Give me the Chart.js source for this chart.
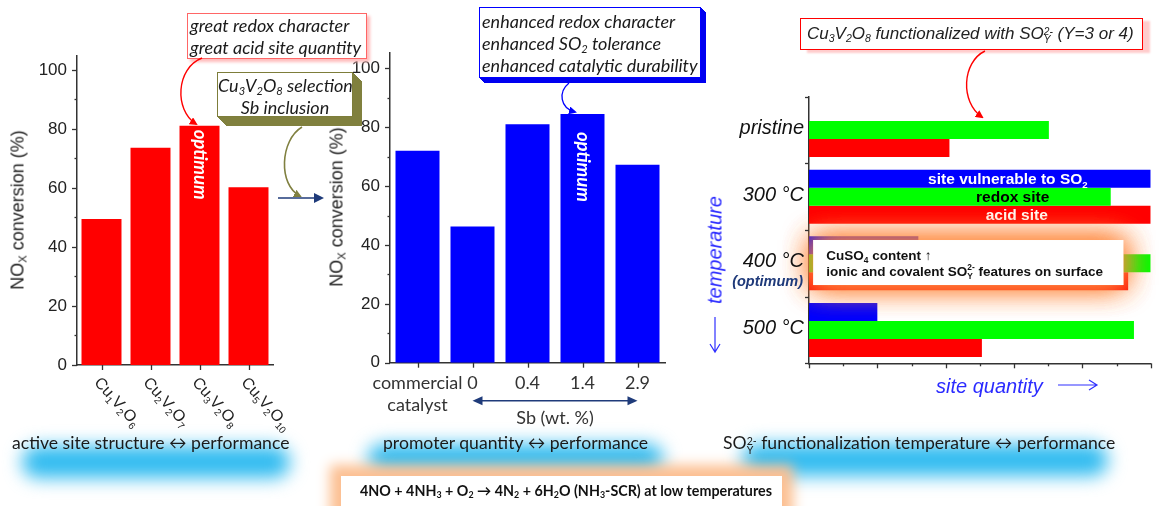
<!DOCTYPE html>
<html><head><meta charset="utf-8">
<script src="https://cdn.jsdelivr.net/npm/chart.js@4.4.1/dist/chart.umd.min.js"></script>
<style>
html,body{margin:0;padding:0;background:#fff;}
#root{position:relative;width:1161px;height:506px;overflow:hidden;background:#fff;}
canvas{position:absolute;top:0;z-index:2;}
.glow{position:absolute;background:#30bbf0;filter:blur(9px);border-radius:16px;z-index:0;}
.cap{position:absolute;font-family:Lato,"Open Sans",sans-serif;font-size:17.6px;color:#1a1a1a;white-space:nowrap;line-height:18px;z-index:3;}
.box{position:absolute;box-sizing:border-box;background:#fff;white-space:nowrap;z-index:4;}
.it{font-family:Lato,"Open Sans",sans-serif;font-style:italic;font-size:18px;color:#1a1a1a;line-height:22px;}
.ytitle{position:absolute;transform:translate(-50%,-50%) rotate(-90deg);font-family:"Liberation Sans",Arial,sans-serif;font-size:18px;color:#222;white-space:nowrap;z-index:3;}
sub{font-size:0.62em;vertical-align:-0.25em;line-height:0;}
.ss{display:inline-flex;flex-direction:column;font-size:0.6em;line-height:0.85;vertical-align:0.42em;}
svg{position:absolute;left:0;top:0;z-index:5;}
</style></head>
<body><div id="root">
<div class="glow" style="left:22px;top:446px;width:268px;height:32px;"></div>
<div class="glow" style="left:368px;top:444px;width:295px;height:30px;"></div>
<div class="glow" style="left:742px;top:444px;width:366px;height:32px;"></div>

<canvas id="c1" width="290" height="440" style="left:0px"></canvas>
<canvas id="c2" width="360" height="440" style="left:320px"></canvas>
<canvas id="c3" width="461" height="440" style="left:700px"></canvas>

<div class="ytitle" style="left:18px;top:210px;">NO<sub>X</sub> conversion (%)</div>
<div class="ytitle" style="left:337px;top:207px;">NO<sub>X</sub> conversion (%)</div>

<div class="box it" style="left:187px;top:13px;width:180px;height:46px;border:1.5px solid #f66;box-shadow:3px 3px 3px #fbb;padding:0 0 0 2px;">great redox character<br>great acid site quantity</div>

<div class="box it" style="left:217px;top:72px;width:136px;height:45px;border:1.5px solid #7d7d3a;padding-top:1px;text-align:center;box-shadow:1px 1px 0 #80803e,2px 2px 0 #80803e,3px 3px 0 #80803e,4px 4px 0 #80803e,5px 5px 0 #80803e,6px 6px 0 #80803e,7px 7px 0 #80803e,8px 8px 0 #80803e,9px 9px 0 #80803e;">Cu<sub>3</sub>V<sub>2</sub>O<sub>8</sub> selection<br>Sb inclusion</div>

<div class="box it" style="left:479px;top:7px;width:222px;height:71px;border:1.5px solid #00f;padding:2px 0 0 2px;box-shadow:1px 1px 0 #0000f0,2px 2px 0 #0000f0,3px 3px 0 #0000f0,4px 4px 0 #0000f0,5px 5px 0 #0000f0;">enhanced redox character<br>enhanced SO<sub>2</sub> tolerance<br>enhanced catalytic durability</div>

<div class="box" style="left:800px;top:18px;width:343px;height:32px;border:1.5px solid #f00;box-shadow:7px 3px 2px #fcc;padding-left:6px;font-family:'Liberation Sans',Arial,sans-serif;font-style:italic;font-size:17px;line-height:29px;color:#222;">Cu<sub>3</sub>V<sub>2</sub>O<sub>8</sub> functionalized with SO<span class="ss"><span>2-</span><span>Y</span></span> (Y=3 or 4)</div>

<div style="position:absolute;left:715px;top:250px;transform:translate(-50%,-50%) rotate(-90deg);font-family:'Liberation Sans',Arial,sans-serif;font-style:italic;font-size:20px;color:#2b2bff;white-space:nowrap;z-index:3;">temperature</div>
<div style="position:absolute;left:936px;top:375px;font-family:'Liberation Sans',Arial,sans-serif;font-style:italic;font-size:20px;color:#2b2bff;white-space:nowrap;line-height:22px;z-index:3;">site quantity</div>

<div class="cap" style="left:12px;top:434px;">active site structure ↔ performance</div>
<div class="cap" style="left:383px;top:434px;">promoter quantity ↔ performance</div>
<div class="cap" style="left:723px;top:434px;">SO<span class="ss"><span>2-</span><span>Y</span></span> functionalization temperature ↔ performance</div>

<div class="box" style="left:341px;top:476px;width:441px;height:40px;box-shadow:0 0 12px 11px #fcbf91;z-index:3;font-family:Lato,'Open Sans',sans-serif;font-weight:bold;font-size:14.3px;line-height:30px;padding-left:19px;color:#111;">4NO + 4NH<sub>3</sub> + O<sub>2</sub> → 4N<sub>2</sub> + 6H<sub>2</sub>O (NH<sub>3</sub>-SCR) at low temperatures</div>

<svg width="1161" height="506" viewBox="0 0 1161 506">
<defs>
<marker id="mr" markerWidth="8" markerHeight="8" refX="6" refY="4" orient="auto" markerUnits="userSpaceOnUse"><path d="M0,0 L8,4 L0,8 z" fill="#f00"/></marker>
<marker id="mo" markerWidth="8" markerHeight="8" refX="6" refY="4" orient="auto" markerUnits="userSpaceOnUse"><path d="M0,0 L8,4 L0,8 z" fill="#808040"/></marker>
<marker id="mn" markerWidth="10" markerHeight="10" refX="8" refY="5" orient="auto" markerUnits="userSpaceOnUse"><path d="M0,0 L10,5 L0,10 z" fill="#1f3b7a"/></marker>
<marker id="mb" markerWidth="8" markerHeight="8" refX="6" refY="4" orient="auto" markerUnits="userSpaceOnUse"><path d="M0,0 L8,4 L0,8 z" fill="#00f"/></marker>
</defs>
<path d="M202,58 C176,68 174,110 196,124" fill="none" stroke="#f00" stroke-width="1.4" marker-end="url(#mr)"/>
<path d="M302,127 C280,140 278,185 300,196" fill="none" stroke="#808040" stroke-width="1.6" marker-end="url(#mo)"/>
<path d="M278,198 L322,198" fill="none" stroke="#1f3b7a" stroke-width="1.3" marker-end="url(#mn)"/>
<path d="M569,83 C558,92 560,108 575,112" fill="none" stroke="#00f" stroke-width="1.3" marker-end="url(#mb)"/>
<path d="M985,51 C962,62 960,102 982,117" fill="none" stroke="#f00" stroke-width="1.4" marker-end="url(#mr)"/>
<path d="M1058,385 L1097,385 M1089,380 L1097,385 L1089,390" fill="none" stroke="#3030ff" stroke-width="1.2"/>
<path d="M715,317 L715,352 M710,344 L715,352 L720,344" fill="none" stroke="#3030ff" stroke-width="1.2"/>
</svg>
</div>
<script>
// ---------- data ----------
const catalysts = ['Cu1V2O6', 'Cu2V2O7', 'Cu3V2O8', 'Cu5V2O10'];
const conversionByStructure = [49.5, 73.6, 81.1, 60.2];
const sbLoadings = [['commercial', 'catalyst'], '0', '0.4', '1.4', '2.9'];
const conversionBySb = [72.0, 46.3, 81.0, 84.5, 67.2];
const convTickStep = 20;
const convMinorStep = 10;
const tempLabels = ['pristine', '300 °C', '400 °C', '500 °C'];
const optimumTemp = '400 °C';
const vulnerableSites = [0, 100, 32, 20];
const redoxSites = [70.2, 88.3, 100, 95.1];
const acidSites = [41.1, 100, 93.4, 50.6];

// ---------- helpers ----------
const SANS = '"Liberation Sans", Arial, sans-serif';
const CAL = 'Lato, "Open Sans", sans-serif';
const AX = '#333';
Chart.defaults.animation = false;
Chart.defaults.font.family = SANS;
Chart.defaults.color = '#222';

function line(ctx, x1, y1, x2, y2) { ctx.beginPath(); ctx.moveTo(x1, y1); ctx.lineTo(x2, y2); ctx.stroke(); }
function chemParts(s) {
  const out = []; const re = /([A-Za-z]+)(\d*)/g; let m;
  while ((m = re.exec(s)) && m[0]) { out.push([m[1]]); if (m[2]) out.push([m[2], 'sub']); }
  return out;
}
function drawRich(ctx, parts, x, y, o) {
  const fam = o.family || SANS;
  const f = s => `${o.style || 'normal'} ${o.weight || 'normal'} ${s}px ${fam}`;
  const small = o.size * 0.62;
  let w = 0; const segs = [];
  for (const p of parts) {
    const k = p[1] || '';
    if (k === 'ss') {
      ctx.font = f(small);
      const ww = Math.max(ctx.measureText(p[0]).width, ctx.measureText(p[2]).width);
      segs.push({ k, t: p[0], t2: p[2], w: ww }); w += ww;
    } else {
      ctx.font = f(k ? small : o.size);
      const ww = ctx.measureText(p[0]).width; segs.push({ k, t: p[0], w: ww }); w += ww;
    }
  }
  let cx = o.align === 'center' ? x - w / 2 : o.align === 'right' ? x - w : x;
  ctx.fillStyle = o.color || '#222'; ctx.textAlign = 'left'; ctx.textBaseline = 'alphabetic';
  for (const s of segs) {
    if (s.k === 'ss') { ctx.font = f(small); ctx.fillText(s.t, cx, y + o.size * 0.22); ctx.fillText(s.t2, cx, y - o.size * 0.42); }
    else if (s.k === 'sub') { ctx.font = f(small); ctx.fillText(s.t, cx, y + o.size * 0.22); }
    else if (s.k === 'sup') { ctx.font = f(small); ctx.fillText(s.t, cx, y - o.size * 0.42); }
    else { ctx.font = f(o.size); ctx.fillText(s.t, cx, y); }
    cx += s.w;
  }
}
function argmax(a) { return a.reduce((bi, v, i) => v > a[bi] ? i : bi, 0); }
function drawOptimum(chart, dy) {
  const vals = chart.data.datasets[0].data; const el = chart.getDatasetMeta(0).data[argmax(vals)];
  const ctx = chart.ctx; ctx.save(); ctx.translate(el.x, el.y + dy); ctx.rotate(Math.PI / 2);
  ctx.font = `italic bold 18.5px ${CAL}`; ctx.fillStyle = '#fff'; ctx.textBaseline = 'middle'; ctx.textAlign = 'left';
  ctx.fillText('optimum', 0, 0); ctx.restore();
}
function yConvTicks(chart) {
  const { ctx, chartArea: a, scales: { y } } = chart;
  ctx.save(); ctx.strokeStyle = AX; ctx.lineWidth = 1.3;
  for (let v = 0; v <= 100; v += convMinorStep) {
    const py = Math.round(y.getPixelForValue(v)) + 0.5; const L = v % convTickStep === 0 ? 5 : 2.5;
    line(ctx, a.left - L, py, a.left, py);
  }
  ctx.restore();
}
function convYScale(max, width) {
  return { min: 0, max, grid: { display: false, drawTicks: false }, border: { display: true, color: AX, width: 1.5 },
    ticks: { stepSize: convTickStep, includeBounds: false, padding: 10, font: { size: 17 }, color: '#222' },
    afterFit: s => { s.width = width; } };
}

// ---------- chart 1 ----------
new Chart(document.getElementById('c1'), {
  type: 'bar',
  data: { labels: catalysts, datasets: [{ data: conversionByStructure, backgroundColor: '#ff0000', borderWidth: 0, barPercentage: 0.816, categoryPercentage: 1 }] },
  options: {
    responsive: false, devicePixelRatio: 1,
    layout: { padding: { top: 56, right: 17, left: 0, bottom: 0 } },
    plugins: { legend: { display: false }, tooltip: { enabled: false } },
    scales: {
      x: { grid: { display: false, drawTicks: false }, border: { display: true, color: AX, width: 1.5 }, ticks: { display: false }, afterFit: s => { s.height = 75; } },
      y: convYScale(104.7, 77)
    }
  },
  plugins: [{ id: 'p1', afterDraw(chart) {
    const { ctx, chartArea: a, scales: { x } } = chart;
    yConvTicks(chart);
    ctx.save(); ctx.strokeStyle = AX; ctx.lineWidth = 1.3;
    catalysts.forEach((lab, i) => {
      const px = Math.round(x.getPixelForValue(i)) + 0.5;
      line(ctx, px, a.bottom, px, a.bottom + 5);
      ctx.save(); ctx.translate(px - 9, a.bottom + 18); ctx.rotate(48 * Math.PI / 180);
      drawRich(ctx, chemParts(lab), 0, 0, { size: 16, color: '#222' }); ctx.restore();
    });
    ctx.restore();
    drawOptimum(chart, 4);
  } }]
});

// ---------- chart 2 ----------
new Chart(document.getElementById('c2'), {
  type: 'bar',
  data: { labels: sbLoadings, datasets: [{ data: conversionBySb, backgroundColor: '#0000ff', borderWidth: 0, barPercentage: 0.8, categoryPercentage: 1 }] },
  options: {
    responsive: false, devicePixelRatio: 1,
    layout: { padding: { top: 53, right: 15, left: 0, bottom: 0 } },
    plugins: { legend: { display: false }, tooltip: { enabled: false } },
    scales: {
      x: { grid: { display: false, drawTicks: false }, border: { display: true, color: AX, width: 1.5 },
        ticks: { padding: 10, font: { family: CAL, size: 18 }, color: '#333', maxRotation: 0, autoSkip: false },
        afterFit: s => { s.height = 77.3; } },
      y: convYScale(105.2, 70)
    }
  },
  plugins: [{ id: 'p2', afterDraw(chart) {
    const { ctx, chartArea: a, scales: { x } } = chart;
    yConvTicks(chart);
    ctx.save(); ctx.strokeStyle = AX; ctx.lineWidth = 1.3;
    sbLoadings.forEach((lab, i) => { const px = Math.round(x.getPixelForValue(i)) + 0.5; line(ctx, px, a.bottom, px, a.bottom + 5); });
    // Sb range arrow
    const x1 = x.getPixelForValue(1), x2 = x.getPixelForValue(sbLoadings.length - 1), ya = a.bottom + 38;
    ctx.strokeStyle = '#1f3b7a'; ctx.fillStyle = '#1f3b7a'; ctx.lineWidth = 1.4;
    line(ctx, x1 + 6, ya, x2 - 6, ya);
    ctx.beginPath(); ctx.moveTo(x1, ya); ctx.lineTo(x1 + 10, ya - 4.5); ctx.lineTo(x1 + 10, ya + 4.5); ctx.closePath(); ctx.fill();
    ctx.beginPath(); ctx.moveTo(x2, ya); ctx.lineTo(x2 - 10, ya - 4.5); ctx.lineTo(x2 - 10, ya + 4.5); ctx.closePath(); ctx.fill();
    ctx.font = `18px ${CAL}`; ctx.fillStyle = '#333'; ctx.textAlign = 'center'; ctx.textBaseline = 'middle';
    ctx.fillText('Sb (wt. %)', (x1 + x2) / 2, ya + 17);
    ctx.restore();
    drawOptimum(chart, 18);
  } }]
});

// ---------- chart 3 ----------
new Chart(document.getElementById('c3'), {
  type: 'bar',
  data: { labels: tempLabels, datasets: [
    { data: vulnerableSites, backgroundColor: '#0000ff' },
    { data: redoxSites, backgroundColor: '#00ff00' },
    { data: acidSites, backgroundColor: '#ff0000' }
  ] },
  options: {
    indexAxis: 'y', responsive: false, devicePixelRatio: 1,
    datasets: { bar: { barPercentage: 1, categoryPercentage: 0.81, borderWidth: 0 } },
    layout: { padding: { top: 96.7, right: 10.3, left: 0, bottom: 0 } },
    plugins: { legend: { display: false }, tooltip: { enabled: false } },
    scales: {
      x: { min: 0, max: 100, grid: { display: false, drawTicks: false }, border: { display: true, color: AX, width: 1.5 }, ticks: { display: false }, afterFit: s => { s.height = 76.7; } },
      y: { grid: { display: false, drawTicks: false }, border: { display: true, color: AX, width: 1.5 }, ticks: { display: false }, afterFit: s => { s.width = 109; } }
    }
  },
  plugins: [{ id: 'p3',
    afterDatasetsDraw(chart) {
      const { ctx, chartArea: a, scales: { x, y } } = chart;
      const m0 = chart.getDatasetMeta(0).data, m1 = chart.getDatasetMeta(1).data, m2 = chart.getDatasetMeta(2).data;
      drawRich(ctx, [['site vulnerable to SO'], ['2', 'sub']], x.getPixelForValue(58.2), m0[1].y + 5.5, { size: 15.5, weight: 'bold', color: '#fff', align: 'center' });
      drawRich(ctx, [['redox site']], x.getPixelForValue(59.6), m1[1].y + 5.5, { size: 15.5, weight: 'bold', color: '#000', align: 'center' });
      drawRich(ctx, [['acid site']], x.getPixelForValue(60.8), m2[1].y + 5.5, { size: 15.5, weight: 'bold', color: '#fff', align: 'center' });
      // highlighted note over the optimum group
      const oi = tempLabels.indexOf(optimumTemp); const cy = y.getPixelForValue(oi);
      const bx = a.left + 4.3, by = cy - 23.3, bw = 310, bh = 45;
      ctx.save(); ctx.shadowColor = 'rgba(255,135,60,0.85)'; ctx.shadowBlur = 30; ctx.fillStyle = '#fff';
      ctx.fillRect(bx, by, bw, bh); ctx.fillRect(bx, by, bw, bh); ctx.fillRect(bx, by, bw, bh); ctx.restore();
      drawRich(ctx, [['CuSO'], ['4', 'sub'], [' content ↑']], bx + 13, by + 20, { size: 13.5, weight: 'bold', color: '#111' });
      drawRich(ctx, [['ionic and covalent SO'], ['Y', 'ss', '2-'], [' features on surface']], bx + 13, by + 36, { size: 13.5, weight: 'bold', color: '#111' });
    },
    afterDraw(chart) {
      const { ctx, chartArea: a, scales: { x, y } } = chart;
      ctx.save(); ctx.strokeStyle = AX; ctx.lineWidth = 1.3;
      for (let v = 0; v <= 100; v += 10) { const px = Math.round(x.getPixelForValue(v)) + 0.5; line(ctx, px, a.bottom, px, a.bottom + (v % 20 === 0 ? 5 : 3)); }
      for (let i = 0; i <= tempLabels.length; i++) { const py = Math.round(y.getPixelForValue(i - 0.5)) + 0.5; line(ctx, a.left - 4, py, a.left, py); }
      ctx.textAlign = 'right'; ctx.textBaseline = 'alphabetic';
      tempLabels.forEach((t, i) => {
        const cy = y.getPixelForValue(i);
        ctx.font = `italic 20px ${SANS}`; ctx.fillStyle = '#111'; ctx.fillText(t, a.left - 5, cy + 4);
        if (t === optimumTemp) { ctx.font = `italic bold 14.5px ${SANS}`; ctx.fillStyle = '#1f3a7a'; ctx.fillText('(optimum)', a.left - 6, cy + 23); }
      });
      ctx.restore();
    }
  }]
});
</script>
</body></html>
